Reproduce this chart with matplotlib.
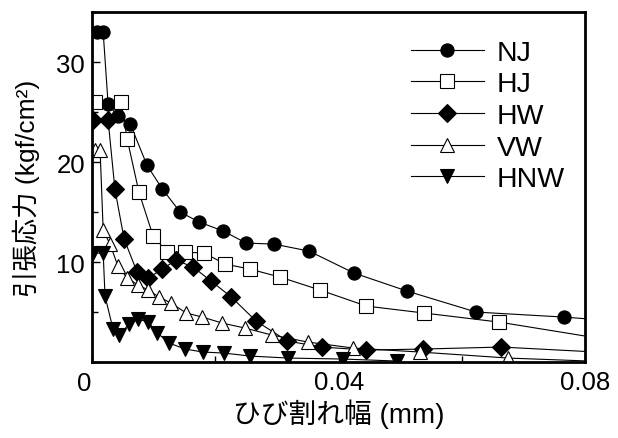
import matplotlib
matplotlib.use("Agg")
import matplotlib.pyplot as plt
from matplotlib.ticker import MultipleLocator

plt.rcParams['font.family'] = ['Liberation Sans', 'Noto Sans CJK JP', 'DejaVu Sans']

# crack width (mm) and tensile stress (kgf/cm2)
nj_x = [0.0008, 0.0018, 0.0026, 0.0042, 0.0062, 0.0089, 0.0114, 0.0143, 0.0174,
        0.0213, 0.025, 0.0295, 0.0352, 0.0425, 0.0511, 0.0623, 0.0765, 0.085]
nj_y = [33.0, 33.0, 25.8, 24.6, 23.8, 19.7, 17.3, 15.0, 14.0,
        13.1, 11.9, 11.8, 11.1, 8.9, 7.1, 5.0, 4.5, 4.1]

hj_x = [0.0005, 0.0047, 0.0057, 0.0076, 0.0099, 0.0122, 0.0151, 0.0182, 0.0216,
        0.0256, 0.0305, 0.037, 0.0445, 0.0539, 0.066, 0.085]
hj_y = [26.0, 26.0, 22.3, 17.0, 12.6, 11.0, 11.0, 10.9, 9.8,
        9.3, 8.5, 7.2, 5.6, 4.9, 4.0, 2.1]

hw_x = [0.0002, 0.0026, 0.0037, 0.0052, 0.0073, 0.0091, 0.0114, 0.0136, 0.0164,
        0.0193, 0.0226, 0.0266, 0.0317, 0.0373, 0.0445, 0.0536, 0.0664, 0.085]
hw_y = [24.2, 24.2, 17.3, 12.3, 9.0, 8.4, 9.3, 10.2, 9.5,
        8.1, 6.5, 4.1, 2.1, 1.5, 1.2, 1.3, 1.5, 0.9]

vw_x = [0.0005, 0.0013, 0.0018, 0.0029, 0.0042, 0.0057, 0.0075, 0.0091, 0.0109,
        0.0128, 0.0153, 0.0179, 0.0211, 0.0248, 0.0292, 0.035, 0.0424, 0.0532,
        0.0675, 0.085]
vw_y = [21.2, 21.2, 13.2, 11.8, 9.6, 8.4, 7.7, 7.2, 6.5,
        5.9, 4.9, 4.5, 3.9, 3.4, 2.7, 2.0, 1.4, 1.0,
        0.4, 0.0]

hnw_x = [0.0002, 0.0018, 0.0021, 0.0034, 0.0044, 0.006, 0.0075, 0.0091, 0.0106,
         0.0125, 0.0151, 0.018, 0.0214, 0.0256, 0.0318, 0.0407, 0.0495]
hnw_y = [10.9, 10.9, 6.6, 3.3, 2.7, 3.8, 4.3, 4.0, 2.9,
         1.9, 1.3, 1.0, 0.9, 0.6, 0.4, 0.3, 0.1]

fig = plt.figure(figsize=(6.18, 4.39), dpi=100)
ax = fig.add_axes([0.149, 0.173, 0.798, 0.797])

kw = dict(color='black', lw=0.8, mec='black', mew=0.8)
ax.plot(nj_x, nj_y, marker='o', ms=9.5, mfc='black', label='NJ', **kw)
ax.plot(hj_x, hj_y, marker='s', ms=10, mfc='white', label='HJ', **kw)
ax.plot(hw_x, hw_y, marker='D', ms=9, mfc='black', label='HW', **kw)
ax.plot(vw_x, vw_y, marker='^', ms=10, mfc='white', label='VW', **kw)
ax.plot(hnw_x, hnw_y, marker='v', ms=10, mfc='black', label='HNW', **kw)

ax.set_xlim(0, 0.08)
ax.set_ylim(0, 35)
ax.set_xticks([0, 0.04, 0.08])
ax.set_xticklabels(['', '0.04', '0.08'])
ax.set_yticks([0, 10, 20, 30])
ax.set_yticklabels(['', '10', '20', '30'])
ax.xaxis.set_minor_locator(MultipleLocator(0.02))
ax.yaxis.set_minor_locator(MultipleLocator(5))
ax.tick_params(which='both', direction='in', labelsize=18.5, width=1.0)
ax.tick_params(which='major', length=6)
ax.tick_params(which='minor', length=4)
ax.tick_params(axis='x', pad=6)
ax.tick_params(axis='y', pad=5)
for s in ax.spines.values():
    s.set_linewidth(2.0)

ax.text(-0.015, -0.025, '0', transform=ax.transAxes, ha='center', va='top', fontsize=18.5)

ax.set_xlabel('ひび割れ幅 (mm)', fontsize=20, labelpad=3)
ax.set_ylabel('引張応力 (kgf/cm²)', fontsize=19)
ax.yaxis.set_label_coords(-0.106, 0.5)

ax.legend(loc='upper right', bbox_to_anchor=(1.01, 0.995), frameon=False, fontsize=20.5,
          handlelength=2.55, handletextpad=0.45, labelspacing=0.2)

fig.savefig('out.png', dpi=100)
